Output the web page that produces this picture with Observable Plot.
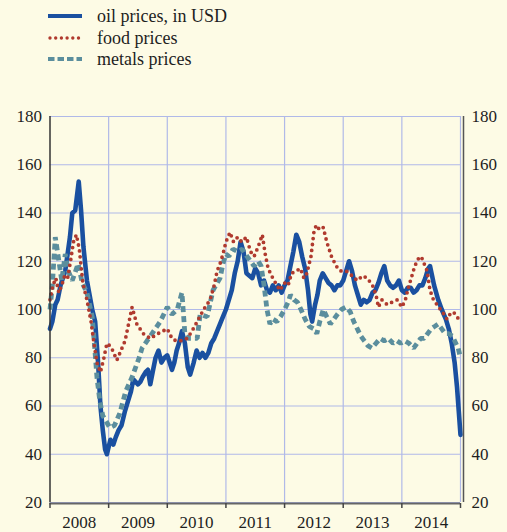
<!DOCTYPE html>
<html>
<head>
<meta charset="utf-8">
<script src="https://cdn.jsdelivr.net/npm/d3@7"></script>
<script src="https://cdn.jsdelivr.net/npm/@observablehq/plot@0.6"></script>
<style>
  html, body { margin: 0; padding: 0; background: #fdfbe5; }
  #wrap { position: relative; width: 507px; height: 532px; overflow: hidden; }
  #legend { position: absolute; left: 0; top: 0; font-family: "Liberation Serif", "Times New Roman", serif; font-size: 18px; color: #1e1e1e; }
  .row { position: absolute; left: 48px; height: 20px; display: flex; align-items: center; white-space: nowrap; }
  .row svg { margin-right: 15px; }
  svg text { font-family: "Liberation Serif", "Times New Roman", serif !important; }
</style>
</head>
<body>
<div id="wrap">
  <div id="chart"></div>
  <div id="legend"></div>
</div>
<script>
// ---- data: [decimal year, index value] ----
const seriesNames = ["oil prices, in USD", "food prices", "metals prices"];
const seriesColors = ["#1a50a0", "#b03a2e", "#5b8e9d"];

const oilSeries = [[2008.00,92],[2008.04,95],[2008.09,102],[2008.13,104],[2008.18,110],[2008.22,113],[2008.26,116],[2008.30,123],[2008.34,130],[2008.38,140],[2008.43,141],[2008.49,153],[2008.53,141],[2008.57,126],[2008.63,112],[2008.72,100],[2008.77,95],[2008.82,78],[2008.86,60],[2008.90,50],[2008.94,42],[2008.97,40],[2009.03,46],[2009.08,44],[2009.12,47],[2009.17,50],[2009.22,52],[2009.28,58],[2009.33,62],[2009.38,66],[2009.42,71],[2009.46,70],[2009.50,69],[2009.54,70],[2009.58,72],[2009.63,74],[2009.67,75],[2009.71,69],[2009.75,74],[2009.80,80],[2009.85,83],[2009.90,78],[2009.95,80],[2010.00,81],[2010.04,78],[2010.08,75],[2010.12,78],[2010.16,83],[2010.20,86],[2010.25,91],[2010.30,86],[2010.35,76],[2010.39,73],[2010.45,78],[2010.50,83],[2010.55,80],[2010.60,82],[2010.65,80],[2010.70,82],[2010.75,86],[2010.80,88],[2010.85,91],[2010.90,94],[2010.95,97],[2011.00,100],[2011.05,104],[2011.10,108],[2011.15,115],[2011.20,120],[2011.25,128],[2011.30,124],[2011.35,115],[2011.40,114],[2011.45,113],[2011.50,117],[2011.55,115],[2011.60,110],[2011.65,112],[2011.70,108],[2011.75,107],[2011.80,110],[2011.85,108],[2011.90,110],[2011.95,107],[2012.00,110],[2012.05,112],[2012.10,118],[2012.15,124],[2012.20,131],[2012.25,128],[2012.30,122],[2012.35,117],[2012.40,108],[2012.44,98],[2012.47,95],[2012.52,102],[2012.56,106],[2012.60,112],[2012.65,115],[2012.70,113],[2012.75,111],[2012.80,110],[2012.85,108],[2012.90,110],[2012.95,110],[2013.00,112],[2013.05,116],[2013.10,120],[2013.15,116],[2013.20,110],[2013.25,106],[2013.30,102],[2013.35,104],[2013.40,103],[2013.45,104],[2013.50,107],[2013.55,108],[2013.60,111],[2013.65,115],[2013.70,118],[2013.75,112],[2013.80,110],[2013.85,109],[2013.90,110],[2013.95,112],[2014.00,108],[2014.05,107],[2014.10,109],[2014.15,109],[2014.20,107],[2014.25,108],[2014.30,110],[2014.35,110],[2014.40,113],[2014.45,117],[2014.48,118],[2014.55,110],[2014.62,104],[2014.68,100],[2014.75,96],[2014.80,92],[2014.85,86],[2014.90,78],[2014.94,68],[2014.97,58],[2015.00,48]];

const foodSeries = [[2008.00,104],[2008.05,110],[2008.10,113],[2008.15,107],[2008.20,110],[2008.25,114],[2008.30,113],[2008.35,120],[2008.40,128],[2008.45,131],[2008.50,125],[2008.56,111],[2008.63,104],[2008.70,95],[2008.75,86],[2008.80,78],[2008.86,74],[2008.92,80],[2008.97,86],[2009.02,85],[2009.07,83],[2009.14,79],[2009.21,83],[2009.28,87],[2009.34,94],[2009.40,101],[2009.48,94],[2009.59,90],[2009.71,88],[2009.84,90],[2009.92,91],[2010.00,92],[2010.08,88],[2010.15,87],[2010.22,87],[2010.34,88],[2010.42,91],[2010.51,95],[2010.62,100],[2010.73,104],[2010.80,110],[2010.85,116],[2010.90,119],[2010.95,123],[2011.00,128],[2011.07,132],[2011.13,128],[2011.20,130],[2011.27,128],[2011.35,130],[2011.42,124],[2011.48,122],[2011.55,126],[2011.62,131],[2011.67,123],[2011.72,117],[2011.80,113],[2011.87,110],[2011.92,108],[2012.00,111],[2012.06,110],[2012.12,115],[2012.20,116],[2012.27,117],[2012.33,113],[2012.38,115],[2012.45,122],[2012.50,132],[2012.54,135],[2012.60,133],[2012.66,134],[2012.72,128],[2012.80,122],[2012.88,118],[2012.95,116],[2013.05,116],[2013.15,114],[2013.24,112],[2013.33,114],[2013.41,113],[2013.50,110],[2013.56,106],[2013.60,101],[2013.66,104],[2013.75,102],[2013.83,103],[2013.92,104],[2014.00,101],[2014.06,104],[2014.11,109],[2014.16,113],[2014.22,118],[2014.28,121],[2014.33,122],[2014.38,119],[2014.43,116],[2014.48,108],[2014.54,104],[2014.60,102],[2014.66,100],[2014.72,98],[2014.77,96],[2014.82,98],[2014.88,99],[2014.94,97],[2015.00,95]];

const metalsSeries = [[2008.00,100],[2008.04,110],[2008.09,130],[2008.14,122],[2008.20,112],[2008.26,123],[2008.31,116],[2008.38,112],[2008.48,119],[2008.55,111],[2008.63,107],[2008.72,97],[2008.76,85],[2008.80,72],[2008.85,62],[2008.90,56],[2008.95,54],[2009.02,51],[2009.10,52],[2009.19,57],[2009.29,66],[2009.40,72],[2009.52,80],[2009.57,84],[2009.74,90],[2009.88,95],[2010.00,101],[2010.08,98],[2010.17,100],[2010.25,107],[2010.30,90],[2010.36,88],[2010.51,88],[2010.56,98],[2010.68,97],[2010.78,108],[2010.90,113],[2010.95,119],[2011.00,123],[2011.05,122],[2011.12,125],[2011.20,124],[2011.28,125],[2011.36,122],[2011.42,120],[2011.48,118],[2011.55,120],[2011.60,118],[2011.65,110],[2011.70,100],[2011.75,94],[2011.80,96],[2011.87,95],[2011.93,97],[2012.00,100],[2012.06,103],[2012.10,106],[2012.16,104],[2012.22,103],[2012.28,100],[2012.35,96],[2012.42,93],[2012.50,92],[2012.55,90],[2012.60,95],[2012.66,100],[2012.72,97],[2012.78,94],[2012.84,96],[2012.90,98],[2012.97,100],[2013.05,101],[2013.12,99],[2013.18,95],[2013.24,92],[2013.30,89],[2013.36,87],[2013.42,85],[2013.49,84],[2013.56,86],[2013.63,88],[2013.70,87],[2013.77,88],[2013.85,86],[2013.92,87],[2013.98,86],[2014.05,87],[2014.12,86],[2014.20,84],[2014.26,86],[2014.32,88],[2014.38,88],[2014.44,90],[2014.50,92],[2014.56,93],[2014.62,94],[2014.68,92],[2014.74,90],[2014.80,90],[2014.86,89],[2014.92,86],[2014.96,84],[2015.00,80]];

const yTicks = [20, 40, 60, 80, 100, 120, 140, 160, 180];
const yearBounds = [2008, 2009, 2010, 2011, 2012, 2013, 2014, 2015];
const yearLabels = ["2008", "2009", "2010", "2011", "2012", "2013", "2014"];

// ---- build tables ----
const toRows = (arr) => arr.map(([t, v]) => ({t, v}));
const oil = toRows(oilSeries);
const food = toRows(foodSeries);
const metals = toRows(metalsSeries);
const yearMids = yearLabels.map((s, i) => ({t: yearBounds[i] + 0.5, label: s}));

const font = "'Liberation Serif', 'Times New Roman', serif";
const grid = "#b0b9e8";

const chart = Plot.plot({
  width: 507,
  height: 532,
  marginTop: 116,
  marginBottom: 30,
  marginLeft: 49.5,
  marginRight: 47,
  style: {background: "transparent", fontFamily: font, fontSize: "17px", color: "#1e1e1e"},
  x: {type: "linear", domain: [2008, 2015], axis: null},
  y: {domain: [20, 180], axis: null},
  marks: [
    Plot.ruleY(yTicks, {stroke: grid, strokeWidth: 1.2}),
    Plot.ruleX(yearBounds.slice(1), {stroke: grid, strokeWidth: 1.2}),
    Plot.line(oil, {x: "t", y: "v", stroke: seriesColors[0], strokeWidth: 4.6, strokeLinejoin: "round"}),
    Plot.line(metals, {x: "t", y: "v", stroke: seriesColors[2], strokeWidth: 4.8, strokeDasharray: "6 4", strokeLinecap: "butt", strokeLinejoin: "miter"}),
    Plot.line(food, {x: "t", y: "v", stroke: seriesColors[1], strokeWidth: 3.8, strokeDasharray: "0 6", strokeLinecap: "round", strokeLinejoin: "round"}),
    Plot.ruleX([2008], {stroke: "#333", strokeWidth: 1.5}),
    Plot.ruleX([2015], {stroke: "#555", strokeWidth: 1.5, dx: 3}),
    Plot.ruleY([20], {stroke: "#666", strokeWidth: 2, dy: 1}),
    Plot.axisX(yearBounds, {tickSize: 5, tickFormat: () => "", label: null, stroke: "#444", strokeWidth: 1.5, tickPadding: 0, dy: 1}),
    Plot.text(yearMids, {x: "t", y: 20, text: "label", dy: 20, fontSize: 17, fill: "#1e1e1e", fontFamily: font}),
    Plot.axisY(yTicks, {anchor: "left", label: null, tickSize: 0, tickPadding: 8, fontSize: 17, fill: "#1e1e1e", fontFamily: font}),
    Plot.axisY(yTicks, {anchor: "right", label: null, tickSize: 0, tickPadding: 11, fontSize: 17, fill: "#1e1e1e", fontFamily: font})
  ]
});
document.getElementById("chart").appendChild(chart);

// ---- legend ----
const legend = document.getElementById("legend");
const rowTops = [6, 28, 49];
const dashes = ["", "0 5.7", "6.5 3"];
const widths = [4, 3.4, 4.2];
const caps = ["butt", "round", "butt"];
seriesNames.forEach((name, i) => {
  const row = document.createElement("div");
  row.className = "row";
  row.style.top = rowTops[i] + "px";
  const ns = "http://www.w3.org/2000/svg";
  const s = document.createElementNS(ns, "svg");
  s.setAttribute("width", 34); s.setAttribute("height", 10);
  const l = document.createElementNS(ns, "line");
  l.setAttribute("x1", i === 1 ? 2 : 0); l.setAttribute("x2", 34);
  l.setAttribute("y1", 5); l.setAttribute("y2", 5);
  l.setAttribute("stroke", seriesColors[i]);
  l.setAttribute("stroke-width", widths[i]);
  l.setAttribute("stroke-linecap", caps[i]);
  if (dashes[i]) l.setAttribute("stroke-dasharray", dashes[i]);
  s.appendChild(l);
  row.appendChild(s);
  const sp = document.createElement("span");
  sp.textContent = name;
  row.appendChild(sp);
  legend.appendChild(row);
});
</script>
</body>
</html>
